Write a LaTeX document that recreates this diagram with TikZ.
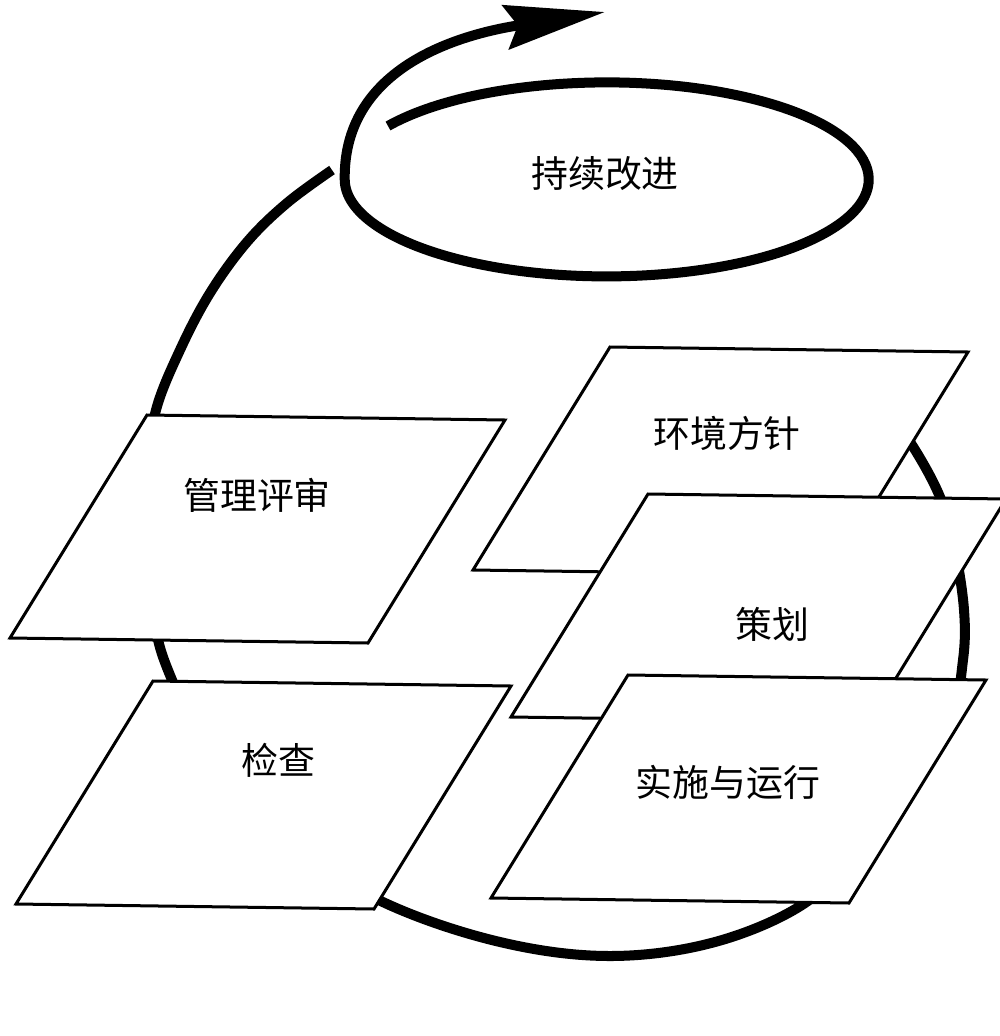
\documentclass[tikz,border=0pt]{standalone}
\usepackage{fontspec}
\newfontfamily\cjk{Noto Sans CJK SC}
\usetikzlibrary{arrows.meta}

\tikzset{
	card/.style={draw, fill=white, line width=0.03cm},
	stage/.style={font=\cjk\fontsize{10.5}{12}\selectfont, inner sep=0pt},
	loopline/.style={line width=0.1cm},
}

\begin{document}
\begin{tikzpicture}[x=0.01cm, y=-0.01cm, >={Stealth[length=10mm, width=4.4mm, inset=1.2mm]}]
		\useasboundingbox (0,0) rectangle (1000,1036);
		
		% big loop, starts behind the policy card
		\draw [loopline] plot [smooth, tension=0.6] coordinates {
			(885,410) (912,445) (940,497) (955,550) (964,610) (963,660) (950,720)
			(905,785) (855,848) (805,903) (715,942) (610,956) (500,942) (385,903)
			(290,845) (215,770) (172,680) (155,625) (147,545) (148,470) (156,410)
			(180,350) (210,293) (247,242) (287,203) (332,170)};
		
		% small loop and the way out
		\draw [loopline, ->] (388,126) arc [start angle=213.4, end angle=540, x radius=262, y radius=97]
		.. controls (343,60) and (475,32) .. (605,12);
		
		\foreach \x/\y in {147/415, 153/681, 610/347, 648/494, 628/675}
		\draw [card] (\x,\y) -- ++(358,5) -- ++(-137,223) -- ++(-358,-5) -- cycle;
		
		\foreach \t/\n/\x/\y in {持续改进/improve/605/174, 管理评审/review/257/495, 检查/check/278/760,
			环境方针/policy/727/433, 策划/plan/772/624, 实施与运行/do/728/782}
		\node [stage] (\n) at (\x,\y) {\t};
		
\end{tikzpicture}
\end{document}
